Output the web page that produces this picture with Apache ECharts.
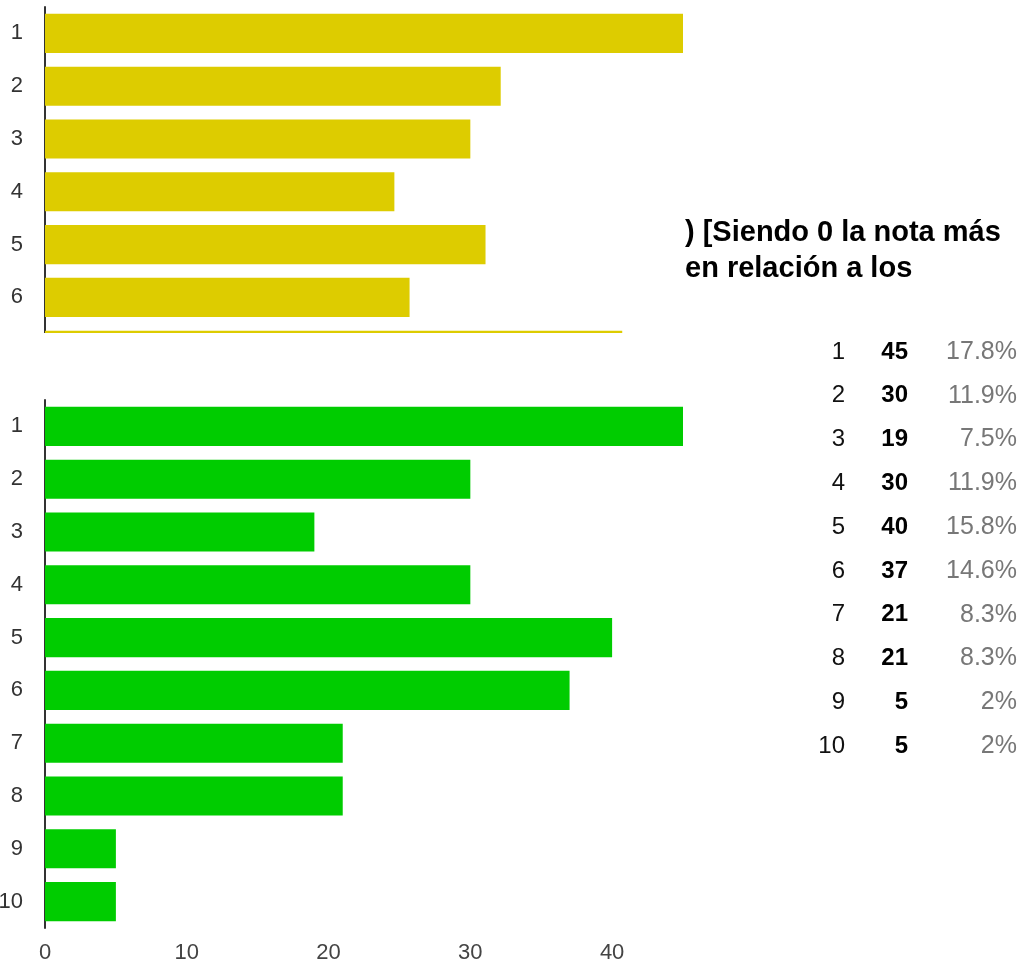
<!DOCTYPE html>
<html>
<head>
<meta charset="utf-8">
<script src="https://cdn.jsdelivr.net/npm/echarts@6/dist/echarts.min.js"></script>
<style>
  html, body { margin: 0; padding: 0; background: #fff; }
  #main { position: absolute; left: 0; top: 0; width: 1023px; height: 964px; }
  #topClip { position: absolute; left: 0; top: 0; width: 1023px; height: 333px; overflow: hidden; }
  #top { width: 700px; height: 420px; }
</style>
</head>
<body>
<div id="main"></div>
<div id="topClip"><div id="top"></div></div>
<script>
// ---- data ----
const topCategories = ['1', '2', '3', '4', '5', '6', '7'];
const topValues = [42, 30, 28, 23, 29, 24, 38];

const categories = ['1', '2', '3', '4', '5', '6', '7', '8', '9', '10'];
const counts = [45, 30, 19, 30, 40, 37, 21, 21, 5, 5];
const percents = ['17.8%', '11.9%', '7.5%', '11.9%', '15.8%', '14.6%', '8.3%', '8.3%', '2%', '2%'];
const titleLines = [') [Siendo 0 la nota más', 'en relación a los'];

const FONT = 'Liberation Sans, Arial, Helvetica, sans-serif';

// ---- top (clipped) chart ----
const topChart = echarts.init(document.getElementById('top'), null, { renderer: 'canvas' });
topChart.setOption({
  animation: false,
  backgroundColor: 'transparent',
  grid: { left: 45, right: 17, top: 7, bottom: 420 - 7 - 52.8 * 7, containLabel: false, outerBoundsMode: 'none' },
  xAxis: {
    type: 'value', min: 0, max: 42, show: false
  },
  yAxis: {
    type: 'category', data: topCategories, inverse: true,
    axisLine: { show: true, lineStyle: { color: '#333', width: 2 } },
    axisTick: { show: false },
    axisLabel: { color: '#333', fontSize: 22, fontFamily: FONT, margin: 22, padding: [3, 0, 0, 0] }
  },
  series: [{
    type: 'bar', data: topValues, barCategoryGap: '26%',
    itemStyle: { color: '#DDCC00' }
  }]
});

// ---- main chart ----
const chart = echarts.init(document.getElementById('main'), null, { renderer: 'canvas' });

const graphics = [];
titleLines.forEach((t, i) => {
  graphics.push({
    type: 'text', left: 685, top: 218 + i * 36,
    style: { text: t, fill: '#000', font: 'bold 29px ' + FONT }
  });
});
categories.forEach((c, i) => {
  const y = 352 + i * 43.8;
  graphics.push({
    type: 'text', x: 845, y: y,
    style: { text: c, fill: '#111', font: '24px ' + FONT, textAlign: 'right', textVerticalAlign: 'middle' }
  });
  graphics.push({
    type: 'text', x: 908, y: y,
    style: { text: String(counts[i]), fill: '#000', font: 'bold 24px ' + FONT, textAlign: 'right', textVerticalAlign: 'middle' }
  });
  graphics.push({
    type: 'text', x: 1017, y: y,
    style: { text: percents[i], fill: '#777', font: '25px ' + FONT, textAlign: 'right', textVerticalAlign: 'middle' }
  });
});

chart.setOption({
  animation: false,
  backgroundColor: '#fff',
  grid: { left: 45, right: 340, top: 400, bottom: 36, containLabel: false, outerBoundsMode: 'none' },
  xAxis: {
    type: 'value', min: 0, max: 45, interval: 10,
    axisLine: { show: false }, axisTick: { show: false }, splitLine: { show: false },
    axisLabel: { color: '#444', fontSize: 22, fontFamily: FONT, margin: 14, showMaxLabel: false }
  },
  yAxis: {
    type: 'category', data: categories, inverse: true,
    axisLine: { show: true, lineStyle: { color: '#333', width: 2 } },
    axisTick: { show: false },
    axisLabel: { color: '#333', fontSize: 22, fontFamily: FONT, margin: 22, padding: [3, 0, 0, 0] }
  },
  series: [{
    type: 'bar', data: counts, barCategoryGap: '26%',
    itemStyle: { color: '#00CC00' }
  }],
  graphic: graphics
});
</script>
</body>
</html>
